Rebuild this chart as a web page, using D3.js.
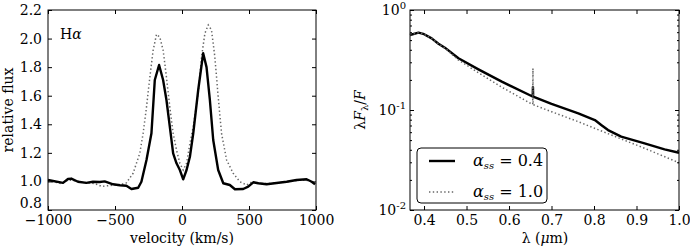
<!DOCTYPE html>
<html>
<head>
<meta charset="utf-8">
<script src="https://cdnjs.cloudflare.com/ajax/libs/d3/7.8.5/d3.min.js"></script>
<style>
  body { margin: 0; background: white; }
  svg { font-family: "DejaVu Serif", serif; }
</style>
</head>
<body>
<main></main>
<script>
// left panel: H-alpha line profile
const velSolid = [-1000, -888, -851, -826, -776, -714, -664, -614, -577, -514, -464, -415, -377, -327, -303,
  -265, -228, -203, -171, -141, -116, -91, -66, -41, -16, 9, 34, 59, 84, 121, 158, 183, 208, 233, 270,
  308, 357, 395, 457, 494, 532, 569, 631, 706, 781, 855, 930, 968, 993]
const fluxSolid = [1.01, 0.99, 1.017, 1.02, 0.998, 0.99, 0.998, 0.996, 1.0, 0.98, 0.973, 0.97, 0.947, 0.956, 0.998,
  1.15, 1.337, 1.71, 1.815, 1.71, 1.57, 1.383, 1.197, 1.127, 1.08, 1.015, 1.08, 1.173, 1.337, 1.64, 1.897, 1.8, 1.57, 1.29, 1.08,
  0.987, 0.975, 0.945, 0.947, 0.963, 0.994, 0.987, 0.98, 0.989, 0.998, 1.01, 1.015, 0.998, 0.98]

const velDotted = [-1000, -950, -900, -850, -800, -750, -700, -650, -600, -550, -500, -450, -415, -365, -315, -290,
  -265, -240, -215, -190, -166, -141, -116, -91, -66, -41, -16, 9, 34, 59, 84, 121, 146, 171, 196, 220, 245, 270,
  295, 333, 382, 432, 482, 519, 560, 600, 650, 700, 750, 800, 850, 900, 950, 1000]
const fluxDotted = [1.0, 0.995, 0.985, 1.01, 1.005, 0.995, 0.99, 0.985, 0.965, 0.97, 0.975, 0.98, 0.99, 1.057, 1.197, 1.337,
  1.52, 1.73, 1.92, 2.03, 2.01, 1.92, 1.73, 1.52, 1.337, 1.22, 1.127, 1.08, 1.127, 1.267, 1.383, 1.617, 1.873, 2.037, 2.095, 2.06, 1.873, 1.593,
  1.337, 1.15, 1.057, 0.998, 0.975, 0.995, 0.99, 0.985, 0.985, 0.99, 0.995, 1.0, 1.005, 1.01, 1.005, 0.98]

const velTicks = [-1000, -500, 0, 500, 1000]
const fluxTicks = [0.8, 1.0, 1.2, 1.4, 1.6, 1.8, 2.0, 2.2]

// right panel: continuum
const lamSolid = [0.367, 0.387, 0.398, 0.418, 0.434, 0.449, 0.481, 0.528, 0.583, 0.653, 0.6558, 0.6563, 0.6568,
  0.7, 0.763, 0.802, 0.817, 0.833, 0.864, 0.919, 0.966, 1.0]
const sedSolid = [0.562, 0.593, 0.578, 0.52, 0.46, 0.42, 0.329, 0.255, 0.192, 0.138, 0.137, 0.17, 0.136,
  0.115, 0.0926, 0.0794, 0.0708, 0.063, 0.0541, 0.0464, 0.0404, 0.0374]

const lamDotted = [0.367, 0.387, 0.398, 0.418, 0.434, 0.449, 0.481, 0.528, 0.583, 0.653, 0.6558, 0.6563, 0.6568,
  0.7, 0.763, 0.841, 0.919, 1.0]
const sedDotted = [0.562, 0.593, 0.578, 0.52, 0.46, 0.418, 0.316, 0.236, 0.169, 0.115, 0.114, 0.26, 0.113,
  0.0962, 0.0764, 0.0562, 0.0414, 0.0297]

const lamTicks = [0.4, 0.5, 0.6, 0.7, 0.8, 0.9, 1.0]
const sedTicks = [0.01, 0.1, 1]
const sedTickLabels = ["-2", "-1", "0"]

const legendLabels = ["0.4", "1.0"]

const svgWidth = 690
const svgHeight = 249
const plotTop = 10
const plotBottom = 210

const dotColor = "#666"
const dotDash = "1.4,2.4"

let svg = d3.select("main")
  .append("svg")
  .attr("width", svgWidth)
  .attr("height", svgHeight)

function frame(g, x0, x1) {
  g.append("rect")
    .attr("x", x0).attr("y", plotTop)
    .attr("width", x1 - x0).attr("height", plotBottom - plotTop)
    .attr("fill", "none").attr("stroke", "black").attr("stroke-width", 1)
}

function styleAxis(ax) {
  ax.select(".domain").remove()
  ax.selectAll("line").attr("stroke", "black")
  ax.selectAll("text")
    .attr("font-family", "DejaVu Serif")
    .attr("font-size", 14)
    .attr("fill", "black")
}

// ---------- left panel ----------
let xV = d3.scaleLinear().domain([-1000, 1000]).range([48, 316])
let yF = d3.scaleLinear().domain([0.8, 2.2]).range([plotBottom, plotTop])

let left = svg.append("g")

let line1 = d3.line().x(d => xV(d[0])).y(d => yF(d[1]))

left.append("path")
  .datum(d3.zip(velDotted, fluxDotted))
  .attr("d", line1)
  .attr("fill", "none").attr("stroke", dotColor)
  .attr("stroke-width", 1.5).attr("stroke-dasharray", dotDash)

left.append("path")
  .datum(d3.zip(velSolid, fluxSolid))
  .attr("d", line1)
  .attr("fill", "none").attr("stroke", "black")
  .attr("stroke-width", 2.4).attr("stroke-linejoin", "round")

let bx = left.append("g").attr("transform", `translate(0, ${plotBottom})`)
  .call(d3.axisBottom(xV).tickValues(velTicks).tickSize(-4).tickPadding(5)
    .tickFormat(d => d < 0 ? "\u2212" + Math.abs(d) : d))
styleAxis(bx)
let tx = left.append("g").attr("transform", `translate(0, ${plotTop})`)
  .call(d3.axisTop(xV).tickValues(velTicks).tickSize(-4).tickFormat(""))
styleAxis(tx)
let ly = left.append("g").attr("transform", `translate(48, 0)`)
  .call(d3.axisLeft(yF).tickValues(fluxTicks).tickSize(-4).tickPadding(6).tickFormat(d3.format(".1f")))
styleAxis(ly)
ly.selectAll("text").filter(d => d === 0.8).attr("dy", "-0.15em")
let ry = left.append("g").attr("transform", `translate(316, 0)`)
  .call(d3.axisRight(yF).tickValues(fluxTicks).tickSize(-4).tickFormat(""))
styleAxis(ry)
frame(left, 48, 316)

left.append("text")
  .attr("x", 182).attr("y", 243)
  .attr("text-anchor", "middle").attr("font-size", 14)
  .text("velocity (km/s)")

left.append("text")
  .attr("transform", "translate(13, 110) rotate(-90)")
  .attr("text-anchor", "middle").attr("font-size", 14)
  .text("relative flux")

let ha = left.append("text").attr("x", 60).attr("y", 39).attr("font-size", 14)
ha.append("tspan").text("H")
ha.append("tspan").attr("font-style", "italic").text("\u03b1")

// ---------- right panel ----------
let xL = d3.scaleLinear().domain([0.367, 1.0]).range([410, 679])
let yS = d3.scaleLog().domain([0.01, 1]).range([plotBottom, plotTop])

let right = svg.append("g")

let line2 = d3.line().x(d => xL(d[0])).y(d => yS(d[1]))

right.append("path")
  .datum(d3.zip(lamSolid, sedSolid))
  .attr("d", line2)
  .attr("fill", "none").attr("stroke", "black")
  .attr("stroke-width", 2.4).attr("stroke-linejoin", "round")

right.append("path")
  .datum(d3.zip(lamDotted, sedDotted))
  .attr("d", line2)
  .attr("fill", "none").attr("stroke", dotColor)
  .attr("stroke-width", 1.5).attr("stroke-dasharray", dotDash)

let minorVals = []
for (let e = -2; e < 0; e++) for (let m = 2; m <= 9; m++) minorVals.push(m * Math.pow(10, e))

let bx2 = right.append("g").attr("transform", `translate(0, ${plotBottom})`)
  .call(d3.axisBottom(xL).tickValues(lamTicks).tickSize(-4).tickPadding(5).tickFormat(d3.format(".1f")))
styleAxis(bx2)
let tx2 = right.append("g").attr("transform", `translate(0, ${plotTop})`)
  .call(d3.axisTop(xL).tickValues(lamTicks).tickSize(-4).tickFormat(""))
styleAxis(tx2)

let ly2 = right.append("g").attr("transform", `translate(410, 0)`)
  .call(d3.axisLeft(yS).tickValues(sedTicks).tickSize(-4).tickFormat(""))
styleAxis(ly2)
let ly2m = right.append("g").attr("transform", `translate(410, 0)`)
  .call(d3.axisLeft(yS).tickValues(minorVals).tickSize(-2).tickFormat(""))
styleAxis(ly2m)
let ry2 = right.append("g").attr("transform", `translate(679, 0)`)
  .call(d3.axisRight(yS).tickValues(sedTicks).tickSize(-4).tickFormat(""))
styleAxis(ry2)
let ry2m = right.append("g").attr("transform", `translate(679, 0)`)
  .call(d3.axisRight(yS).tickValues(minorVals).tickSize(-2).tickFormat(""))
styleAxis(ry2m)

// power-of-ten labels
sedTicks.forEach((v, i) => {
  let t = right.append("text")
    .attr("x", 406).attr("y", yS(v) + 5)
    .attr("text-anchor", "end").attr("font-size", 14)
  t.append("tspan").text("10")
  t.append("tspan").attr("font-size", 10).attr("dy", -6).text(sedTickLabels[i])
})

frame(right, 410, 679)

// legend
let leg = right.append("g")
leg.append("rect")
  .attr("x", 417).attr("y", 148).attr("width", 130).attr("height", 55)
  .attr("rx", 4).attr("fill", "white").attr("stroke", "black").attr("stroke-width", 1)

let legStyles = [
  { stroke: "black", w: 2.4, dash: null },
  { stroke: dotColor, w: 1.5, dash: dotDash }
]
legendLabels.forEach((lab, i) => {
  let y = 161 + i * 31
  leg.append("line")
    .attr("x1", 429).attr("x2", 455).attr("y1", y).attr("y2", y)
    .attr("stroke", legStyles[i].stroke).attr("stroke-width", legStyles[i].w)
    .attr("stroke-dasharray", legStyles[i].dash)
  let t = leg.append("text").attr("x", 473).attr("y", y + 5).attr("font-size", 16)
  t.append("tspan").attr("font-style", "italic").text("\u03b1")
  t.append("tspan").attr("font-style", "italic").attr("font-size", 10).attr("dy", 3).text("ss")
  t.append("tspan").attr("dy", -3).text(" = " + lab)
})

right.append("text")
  .attr("x", 545).attr("y", 243)
  .attr("text-anchor", "middle").attr("font-size", 14)
  .call(t => {
    t.append("tspan").text("\u03bb (")
    t.append("tspan").attr("font-style", "italic").text("\u03bc")
    t.append("tspan").text("m)")
  })

let yl = right.append("text")
  .attr("transform", "translate(365, 110) rotate(-90)")
  .attr("text-anchor", "middle").attr("font-size", 14)
yl.append("tspan").text("\u03bb")
yl.append("tspan").attr("font-style", "italic").text("F")
yl.append("tspan").attr("font-size", 10).attr("dy", 3).text("\u03bb")
yl.append("tspan").attr("dy", -3).text("/")
yl.append("tspan").attr("font-style", "italic").text("F")
</script>
</body>
</html>
